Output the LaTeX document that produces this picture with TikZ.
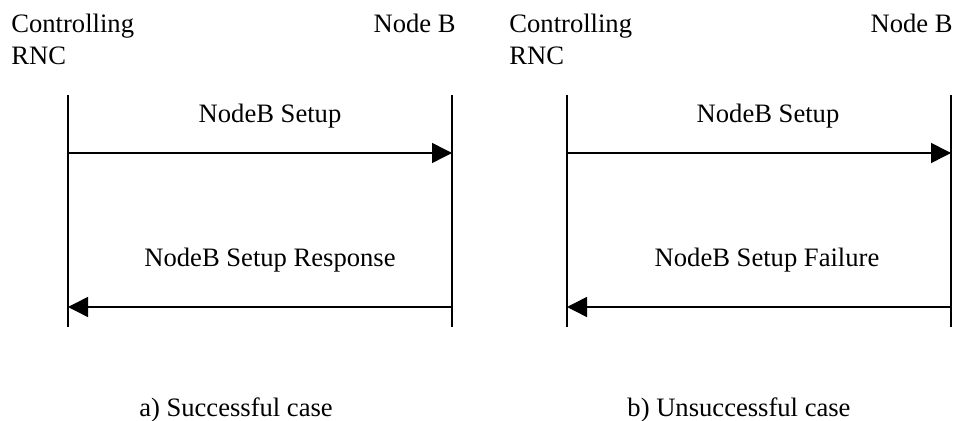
\documentclass[tikz,border=0pt]{standalone}
\usepackage{fontspec}
\setmainfont{Liberation Serif}
\usetikzlibrary{arrows.meta}
\tikzset{
  lifeline/.style={line width=0.75pt},
  msg/.style={line width=0.75pt,-{Triangle[length=10pt,width=10pt]}},
  lbl/.style={inner sep=0pt,font=\fontsize{13.3}{16}\selectfont}
}
\begin{document}
\begin{tikzpicture}[x=0.5pt,y=-0.5pt]
		\useasboundingbox (0,0) rectangle (957,421);
		
		% a) erfolgreicher Fall
		\node[lbl,anchor=base west,align=left] (rncA) at (11,65) {Controlling\\RNC};
		\node[lbl,anchor=base east] (nbA) at (456,33) {Node B};
		\coordinate (rncAtop) at (68,95);
		\coordinate (rncAbot) at (68,327);
		\coordinate (nbAtop) at (452,95);
		\coordinate (nbAbot) at (452,327);
		\draw[lifeline] (rncAtop) -- (rncAbot);
		\draw[lifeline] (nbAtop) -- (nbAbot);
		\coordinate (setupAs) at (68,153);
		\coordinate (setupAe) at (452,153);
		\coordinate (respAs) at (452,307);
		\coordinate (respAe) at (68,307);
		\draw[msg] (setupAs) -- (setupAe);
		\draw[msg] (respAs) -- (respAe);
		\node[lbl,anchor=base] (setupA) at (270,123) {NodeB Setup};
		\node[lbl,anchor=base] (respA) at (270,267) {NodeB Setup Response};
		\node[lbl,anchor=base] (capA) at (236,417) {a) Successful case};
		
		% b) nicht erfolgreicher Fall
		\node[lbl,anchor=base west,align=left] (rncB) at (509,65) {Controlling\\RNC};
		\node[lbl,anchor=base east] (nbB) at (953,33) {Node B};
		\coordinate (rncBtop) at (567,95);
		\coordinate (rncBbot) at (567,327);
		\coordinate (nbBtop) at (951,95);
		\coordinate (nbBbot) at (951,327);
		\draw[lifeline] (rncBtop) -- (rncBbot);
		\draw[lifeline] (nbBtop) -- (nbBbot);
		\coordinate (setupBs) at (567,153);
		\coordinate (setupBe) at (951,153);
		\coordinate (failBs) at (951,307);
		\coordinate (failBe) at (567,307);
		\draw[msg] (setupBs) -- (setupBe);
		\draw[msg] (failBs) -- (failBe);
		\node[lbl,anchor=base] (setupB) at (768,123) {NodeB Setup};
		\node[lbl,anchor=base] (failB) at (767,267) {NodeB Setup Failure};
		\node[lbl,anchor=base] (capB) at (739,417) {b) Unsuccessful case};
		
	\end{tikzpicture}
\end{document}
